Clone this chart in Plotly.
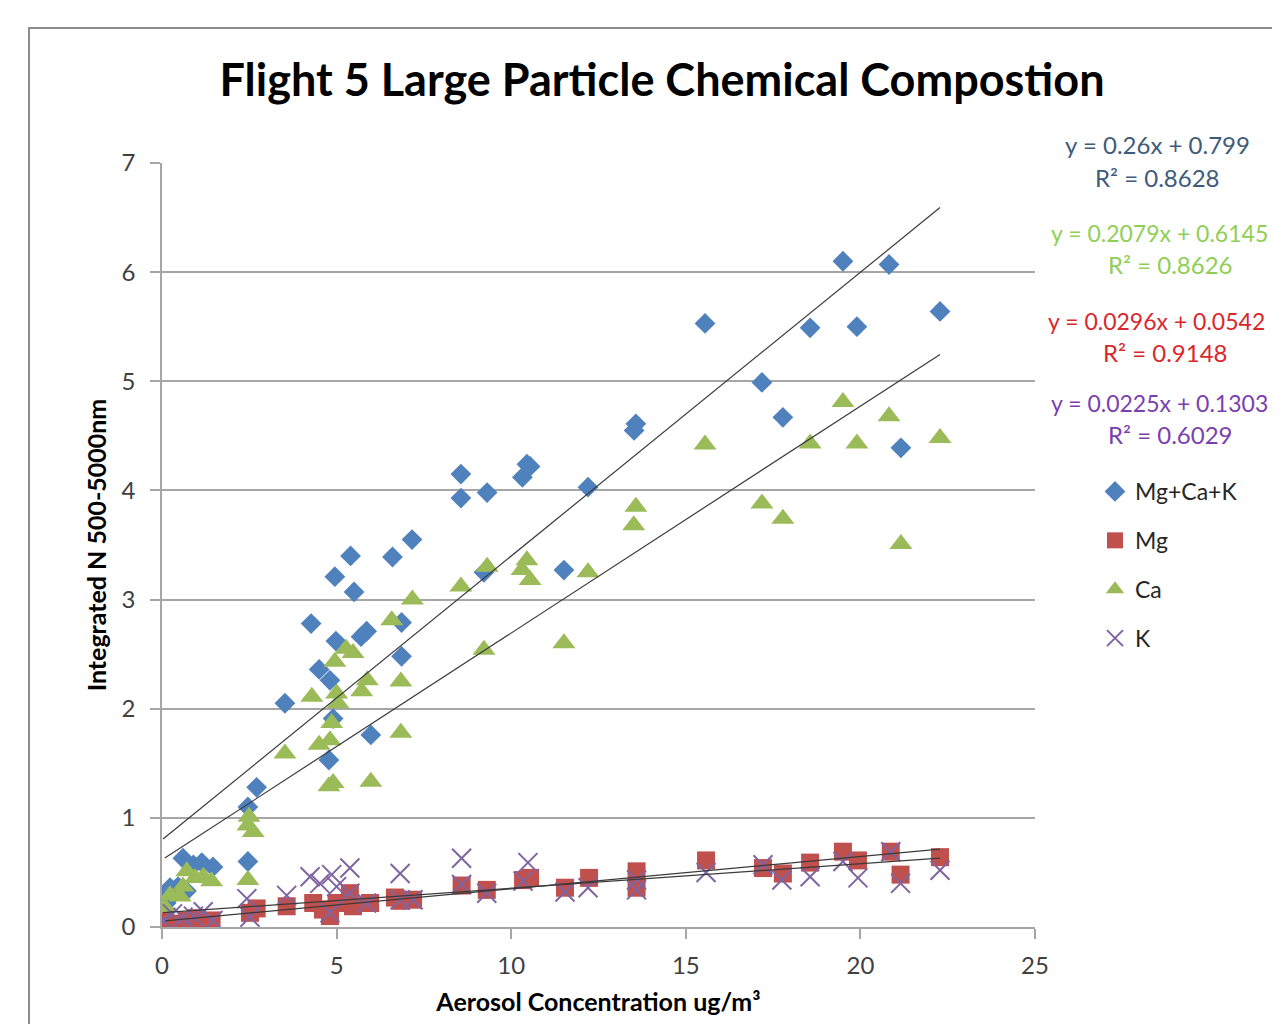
import plotly.graph_objects as go

# ---------------- data ----------------
blue_x = [22.28, 21.16, 20.82, 19.90, 19.50, 18.56, 17.78, 17.18, 15.55, 13.57, 13.52, 12.20,
          11.51, 10.54, 10.45, 10.32, 9.31, 9.22, 8.56, 8.56, 7.16, 6.86, 6.86, 6.60, 5.98,
          5.86, 5.70, 5.50, 5.40, 4.95, 4.98, 4.27, 4.50, 4.81, 4.90, 4.78, 3.52, 2.71, 2.46,
          2.46, 0.60, 0.90, 1.14, 1.46, 0.46, 0.23, 0.03, 0.12, 0.35, 0.70]
blue_y = [5.64, 4.39, 6.07, 5.50, 6.10, 5.49, 4.67, 4.99, 5.53, 4.61, 4.55, 4.03,
          3.27, 4.22, 4.24, 4.12, 3.98, 3.25, 4.15, 3.93, 3.55, 2.79, 2.48, 3.39, 1.76,
          2.71, 2.66, 3.07, 3.40, 3.21, 2.62, 2.78, 2.36, 2.26, 1.91, 1.53, 2.05, 1.28, 1.10,
          0.60, 0.63, 0.57, 0.59, 0.55, 0.37, 0.36, 0.28, 0.22, 0.31, 0.33]

mg_x = [0.09, 0.30, 0.71, 1.00, 1.42, 2.52, 2.71, 3.57, 4.33, 4.61, 4.81, 5.00, 5.38, 5.47,
        5.96, 6.67, 6.85, 7.19, 8.58, 9.30, 10.34, 10.54, 11.54, 12.23, 13.59, 13.59, 15.58,
        17.21, 17.78, 18.56, 19.50, 19.93, 20.87, 21.15, 22.28]
mg_y = [0.06, 0.03, 0.06, 0.08, 0.06, 0.13, 0.17, 0.19, 0.22, 0.16, 0.10, 0.22, 0.31, 0.19,
        0.22, 0.27, 0.24, 0.25, 0.38, 0.34, 0.43, 0.45, 0.36, 0.45, 0.51, 0.36, 0.61,
        0.54, 0.49, 0.59, 0.69, 0.61, 0.69, 0.48, 0.64]

ca_x = [22.28, 21.16, 20.82, 19.90, 19.50, 18.56, 17.78, 17.18, 15.55, 13.57, 13.51, 12.20,
        11.51, 10.54, 10.45, 10.31, 9.31, 9.22, 8.56, 7.17, 6.84, 6.84, 6.58, 5.98, 5.47,
        5.27, 4.95, 5.88, 5.72, 4.29, 5.00, 5.04, 4.86, 4.50, 4.81, 3.52, 4.90, 4.78, 2.49,
        2.46, 2.61, 2.46, 0.71, 1.18, 0.95, 1.42, 0.60, 0.23, 0.52, 0.08]
ca_y = [4.48, 3.51, 4.68, 4.43, 4.81, 4.43, 3.74, 3.88, 4.42, 3.85, 3.68, 3.25,
        2.60, 3.18, 3.36, 3.27, 3.30, 2.54, 3.12, 3.00, 2.25, 1.78, 2.81, 1.33, 2.51,
        2.55, 2.43, 2.26, 2.16, 2.11, 2.14, 2.05, 1.87, 1.67, 1.71, 1.59, 1.32, 1.29, 1.01,
        0.93, 0.87, 0.43, 0.51, 0.46, 0.45, 0.42, 0.37, 0.29, 0.28, 0.18]

k_x = [0.03, 0.30, 0.60, 0.90, 1.18, 1.46, 2.43, 2.52, 3.57, 4.24, 4.52, 4.81, 4.86, 5.00,
       5.38, 5.38, 5.86, 6.82, 6.82, 7.19, 8.58, 8.58, 9.30, 10.34, 10.48, 11.54, 12.20,
       13.59, 13.59, 15.58, 17.21, 17.75, 18.56, 19.50, 19.93, 20.87, 21.15, 22.28]
k_y = [0.06, 0.12, 0.09, 0.10, 0.14, 0.06, 0.26, 0.09, 0.29, 0.46, 0.40, 0.13, 0.48, 0.37,
       0.54, 0.31, 0.22, 0.49, 0.25, 0.25, 0.63, 0.39, 0.31, 0.42, 0.59, 0.32, 0.36,
       0.43, 0.34, 0.50, 0.57, 0.43, 0.46, 0.60, 0.45, 0.69, 0.40, 0.52]

series_names = ["Mg+Ca+K", "Mg", "Ca", "K"]
trend_slopes = [0.26, 0.0296, 0.2079, 0.0225]
trend_intercepts = [0.799, 0.0542, 0.6145, 0.1303]
trend_r2 = [0.8628, 0.9148, 0.8626, 0.6029]
eq_texts = ["y = 0.26x + 0.799", "y = 0.0296x + 0.0542", "y = 0.2079x + 0.6145", "y = 0.0225x + 0.1303"]
r2_texts = ["R² = 0.8628", "R² = 0.9148", "R² = 0.8626", "R² = 0.6029"]

x_ticks = [0, 5, 10, 15, 20, 25]
y_ticks = [0, 1, 2, 3, 4, 5, 6, 7]

# ---------------- style ----------------
FONT = "Lato"
OFF = 8  # page body margin
W, H = 1280 - OFF, 1024 - OFF
ML, MR, MT, MB = 162 - OFF, 245, 163 - OFF, 97
PW, PH = W - ML - MR, H - MT - MB

def px(xp):  # page pixel -> paper x
    return (xp - OFF - ML) / PW

def py(yp):  # page pixel -> paper y
    return (H - MB - (yp - OFF)) / PH

marker_styles = [
    dict(symbol="diamond", size=16, color="#4F81BD"),
    dict(symbol="square", size=18, color="#C0504D"),
    dict(symbol="triangle-up", size=20, color="#9BBB59"),
    dict(symbol="x-thin-open", size=19, color="#8064A2", line=dict(width=2, color="#8064A2")),
]
text_colors = ["#3E5B7A", "#D9282B", "#8FCF55", "#7A3FAF"]

xs = [blue_x, mg_x, ca_x, k_x]
ys = [blue_y, mg_y, ca_y, k_y]

fig = go.Figure()
for i in range(4):
    fig.add_trace(go.Scatter(
        x=xs[i], y=ys[i], mode="markers", name=series_names[i],
        marker=marker_styles[i], legendgroup=series_names[i], showlegend=True,
    ))

for i in range(4):
    x0, x1 = min(xs[i]), max(xs[i])
    fig.add_trace(go.Scatter(
        x=[x0, x1],
        y=[trend_slopes[i] * x0 + trend_intercepts[i], trend_slopes[i] * x1 + trend_intercepts[i]],
        mode="lines", line=dict(color="#3A3A3A", width=1.2),
        showlegend=False, hoverinfo="skip",
    ))

# equation labels (order in reference: blue, green, red, purple)
eq_order = [0, 2, 1, 3]
eq_left = [1063, 1049, 1046, 1049]
r2_left = [1093, 1106, 1101, 1106]
eq_mid = [145, 233, 321, 403]
r2_mid = [177, 264, 352, 434]
eq_size = [24, 23, 23, 23]
annotations = []
for j, i in enumerate(eq_order):
    annotations.append(dict(text=eq_texts[i], x=px(eq_left[j]), y=py(eq_mid[j]), xref="paper", yref="paper",
                            xanchor="left", yanchor="middle", showarrow=False,
                            font=dict(family=FONT, size=eq_size[j], color=text_colors[i])))
    annotations.append(dict(text=r2_texts[i], x=px(r2_left[j]), y=py(r2_mid[j]), xref="paper", yref="paper",
                            xanchor="left", yanchor="middle", showarrow=False,
                            font=dict(family=FONT, size=24, color=text_colors[i])))

fig.update_layout(
    width=W, height=H,
    margin=dict(l=ML, r=MR, t=MT, b=MB, autoexpand=False),
    paper_bgcolor="white", plot_bgcolor="white",
    font=dict(family=FONT, color="#262626"),
    title=dict(text="<b>Flight 5 Large Particle Chemical Compostion</b>",
               xref="container", yref="container",
               x=(662 - OFF) / W, xanchor="center", y=1 - (80 - OFF) / H, yanchor="middle",
               font=dict(family=FONT, size=45, color="black")),
    xaxis=dict(range=[0, 25], tickvals=x_ticks, showgrid=False, zeroline=False,
               showline=True, linecolor="#A6A6A6", linewidth=1.5,
               ticks="outside", ticklen=10, tickcolor="#A6A6A6", tickwidth=1.5,
               tickfont=dict(family=FONT, size=24, color="#404040"), ticklabelstandoff=6,
               title=dict(text="<b>Aerosol Concentration ug/m³</b>", standoff=16,
                          font=dict(family=FONT, size=25, color="black"))),
    yaxis=dict(range=[0, 7], tickvals=y_ticks, showgrid=True, gridcolor="#A6A6A6", gridwidth=1.5,
               zeroline=False, showline=True, linecolor="#A6A6A6", linewidth=1.5,
               ticks="outside", ticklen=10, tickcolor="#A6A6A6", tickwidth=1.5,
               tickfont=dict(family=FONT, size=24, color="#404040"), ticklabelstandoff=10,
               title=dict(text="<b>Integrated N 500-5000nm</b>", standoff=8,
                          font=dict(family=FONT, size=25, color="black"))),
    legend=dict(x=px(1095), xanchor="left", y=py(470), yanchor="top",
                font=dict(family=FONT, size=23, color="#262626"),
                tracegroupgap=16, itemwidth=30, bgcolor="rgba(0,0,0,0)"),
    annotations=annotations,
    shapes=[dict(type="rect", xref="paper", yref="paper",
                 x0=px(29), y0=py(28), x1=px(1400), y1=py(1100),
                 line=dict(color="#8C8C8C", width=2), layer="below")],
)

fig.write_html("out.html")
